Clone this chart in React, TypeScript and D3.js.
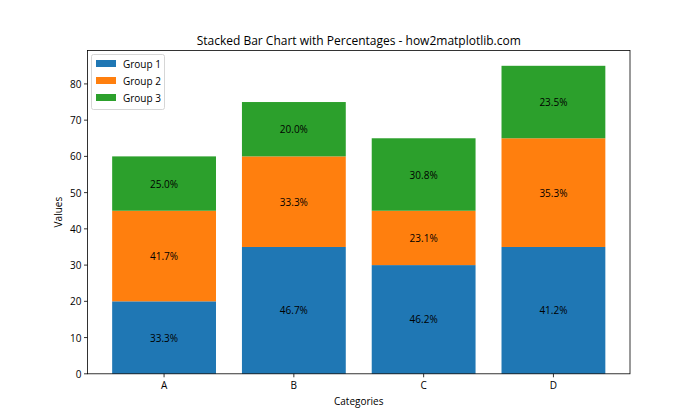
import React from "react";
import * as d3 from "d3";

const categories = ["A", "B", "C", "D"];
const group1 = [20, 35, 30, 35];
const group2 = [25, 25, 15, 30];
const group3 = [15, 15, 20, 20];
const seriesNames = ["Group 1", "Group 2", "Group 3"];
const colors = ["#1f77b4", "#ff7f0e", "#2ca02c"];
const yTicks = [0, 10, 20, 30, 40, 50, 60, 70, 80];

const W = 700, H = 420;
const L = 87.5, R = 630, T = 50.4, B = 373.8;
const FONT = "'Open Sans', 'DejaVu Sans', sans-serif";

export default function App() {
  const series = [group1, group2, group3];
  const totals = categories.map((_, i) => series.reduce((s, a) => s + a[i], 0));
  const yMax = d3.max(totals)! * 1.05;
  const x = d3.scaleLinear().domain([-0.59, 3.59]).range([L, R]);
  const y = d3.scaleLinear().domain([0, yMax]).range([B, T]);
  const bw = x(0.8) - x(0);

  const rects: React.ReactNode[] = [];
  const labels: React.ReactNode[] = [];
  categories.forEach((c, i) => {
    let base = 0;
    series.forEach((s, k) => {
      const v = s[i];
      const y0 = y(base), y1 = y(base + v);
      rects.push(
        <rect key={`r${i}-${k}`} x={x(i) - bw / 2} y={y1} width={bw} height={y0 - y1} fill={colors[k]} />
      );
      labels.push(
        <text key={`t${i}-${k}`} x={x(i)} y={(y0 + y1) / 2} textAnchor="middle" dominantBaseline="central" fontSize={10} fill="#000">
          {((v / totals[i]) * 100).toFixed(1)}%
        </text>
      );
      base += v;
    });
  });

  return (
    <svg width={W} height={H} style={{ display: "block", position: "absolute", left: 0, top: 0 }} fontFamily={FONT}>
      <rect x={0} y={0} width={W} height={H} fill="#fff" />
      {rects}
      {labels}
      <rect x={L} y={T} width={R - L} height={B - T} fill="none" stroke="#000" strokeWidth={0.8} />
      {yTicks.map((t) => (
        <g key={`y${t}`}>
          <line x1={L - 3.5} x2={L} y1={y(t)} y2={y(t)} stroke="#000" strokeWidth={0.8} />
          <text x={L - 6} y={y(t)} textAnchor="end" dominantBaseline="central" fontSize={10}>{t}</text>
        </g>
      ))}
      {categories.map((c, i) => (
        <g key={`x${c}`}>
          <line x1={x(i)} x2={x(i)} y1={B} y2={B + 3.5} stroke="#000" strokeWidth={0.8} />
          <text x={x(i)} y={B + 15} textAnchor="middle" fontSize={10}>{c}</text>
        </g>
      ))}
      <text x={(L + R) / 2} y={405} textAnchor="middle" fontSize={10}>Categories</text>
      <text transform={`translate(62,${(T + B) / 2}) rotate(-90)`} textAnchor="middle" fontSize={10}>Values</text>
      <text x={(L + R) / 2} y={45} textAnchor="middle" fontSize={12}>Stacked Bar Chart with Percentages - how2matplotlib.com</text>
      <g>
        <rect x={91.5} y={54.5} width={73} height={55} rx={2} fill="#fff" fillOpacity={0.8} stroke="#ccc" strokeWidth={0.8} />
        {seriesNames.map((n, k) => (
          <g key={n}>
            <rect x={96} y={60 + k * 17} width={20} height={7} fill={colors[k]} />
            <text x={123} y={63.5 + k * 17} dominantBaseline="central" fontSize={10}>{n}</text>
          </g>
        ))}
      </g>
    </svg>
  );
}
